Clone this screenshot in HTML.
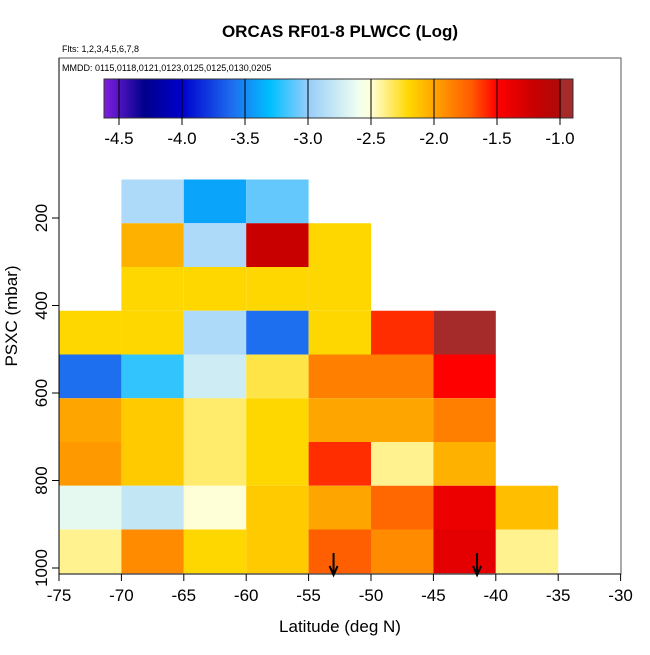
<!DOCTYPE html>
<html><head><meta charset="utf-8"><style>
body{margin:0;background:#fff;font-family:"Liberation Sans",sans-serif}
</style></head><body>
<svg width="650" height="650" style="font-family:'Liberation Sans',sans-serif">
<text x="340" y="37" font-size="17" font-weight="bold" text-anchor="middle">ORCAS RF01-8 PLWCC (Log)</text>
<text x="62" y="52" font-size="9">Flts: 1,2,3,4,5,6,7,8</text>
<g id="cells"></g>
<g id="cbar"></g>
<rect x="59" y="58" width="562" height="516" fill="none" stroke="#555" stroke-width="1"/>
<text x="62" y="71" font-size="9">MMDD: 0115,0118,0121,0123,0125,0125,0130,0205</text>
<g id="axes"></g>
<text x="340" y="632" font-size="17" text-anchor="middle">Latitude (deg N)</text>
<text x="0" y="0" font-size="17" text-anchor="middle" transform="translate(17,316) rotate(-90)">PSXC (mbar)</text>
</svg>
<script>
const latEdges=[-75,-70,-65,-60,-55,-50,-45,-40,-35];
const presEdges=[112,212,312,412,512,612,712,812,912];
const xTicks=[-75,-70,-65,-60,-55,-50,-45,-40,-35,-30];
const yTicks=[200,400,600,800,1000];
const cbTicks=[-4.5,-4.0,-3.5,-3.0,-2.5,-2.0,-1.5,-1.0];
// rows: pressure bins top->bottom; columns: lat bins; null = empty
const cellValues=[
[null,-2.9,-3.4,-3.1,null,null,null,null,null],
[null,-2.05,-2.9,-1.2,-2.2,null,null,null,null],
[null,-2.2,-2.2,-2.2,-2.2,null,null,null,null],
[-2.2,-2.2,-2.9,-3.6,-2.2,-1.6,-0.97,null,null],
[-3.6,-3.2,-2.75,-2.3,-1.85,-1.85,-1.5,null,null],
[-2.0,-2.15,-2.35,-2.2,-2.0,-2.0,-1.85,null,null],
[-1.95,-2.15,-2.35,-2.2,-1.6,-2.4,-2.05,null,null],
[-2.65,-2.8,-2.5,-2.15,-2.0,-1.75,-1.4,-2.1,null],
[-2.4,-1.9,-2.2,-2.15,-1.72,-1.9,-1.35,-2.4,null]];
const arrowLats=[-53,-41.5];
const NS='http://www.w3.org/2000/svg';
const xs=v=>59+(v+75)*12.48;
const ys=p=>218+(p-200)*0.4375;
const cs=v=>119+(v+4.5)*126;
const stops=[[-4.62,[128,32,224]],[-4.3,[0,0,139]],[-4.0,[0,0,205]],[-3.6,[30,110,240]],[-3.3,[0,191,255]],[-3.0,[150,205,250]],[-2.6,[240,255,240]],[-2.5,[255,255,215]],[-2.2,[255,215,0]],[-2.0,[255,165,0]],[-1.7,[255,90,0]],[-1.5,[255,0,0]],[-1.2,[200,0,0]],[-1.0,[175,10,10]],[-0.99,[165,42,42]],[-0.9,[165,42,42]]];
function col(v){for(let i=0;i<stops.length-1;i++){const a=stops[i],b=stops[i+1];if(v<=b[0]){const t=Math.max(0,(v-a[0])/(b[0]-a[0]));return 'rgb('+a[1].map((c,k)=>Math.round(c+(b[1][k]-c)*t)).join(',')+')';}}return 'rgb(165,42,42)';}
function mk(tag,at,p){const e=document.createElementNS(NS,tag);for(const k in at)e.setAttribute(k,at[k]);p.appendChild(e);return e;}
const cells=document.getElementById('cells');
cellValues.forEach((row,r)=>row.forEach((v,c)=>{if(v===null)return;
const e=mk('rect',{x:xs(latEdges[c]),y:ys(presEdges[r]),width:xs(latEdges[c]+5)-xs(latEdges[c]),height:ys(presEdges[r]+100)-ys(presEdges[r]),fill:col(v)},cells);

}));
arrowLats.forEach(a=>{const x=xs(a);
const l=mk('path',{d:`M${x},553 L${x},575 M${x-4},566 L${x},575 L${x+4},566`,stroke:'#000','stroke-width':2,fill:'none'},cells);

});
const cb=document.getElementById('cbar');
for(let px=104;px<573;px++){const v=(px+0.5-119)/126-4.5;mk('rect',{x:px,y:79,width:1.2,height:39,fill:col(v)},cb);}
mk('rect',{x:104,y:79,width:469,height:39,fill:'none',stroke:'#333'},cb);
cbTicks.forEach(t=>{mk('line',{x1:cs(t),x2:cs(t),y1:79,y2:125,stroke:'#000','stroke-width':1},cb);
const tx=mk('text',{x:cs(t),y:144,'font-size':17,'text-anchor':'middle'},cb);tx.textContent=t.toFixed(1);

});
const ax=document.getElementById('axes');
mk('line',{x1:59,x2:621,y1:574,y2:574,stroke:'#000'},ax);
mk('line',{x1:59,x2:59,y1:58,y2:574,stroke:'#000'},ax);
xTicks.forEach(t=>{mk('line',{x1:xs(t),x2:xs(t),y1:574,y2:581,stroke:'#000'},ax);
const tx=mk('text',{x:xs(t),y:601,'font-size':17,'text-anchor':'middle'},ax);tx.textContent=t;

});
yTicks.forEach(t=>{mk('line',{x1:52,x2:59,y1:ys(t),y2:ys(t),stroke:'#000'},ax);
const tx=mk('text',{x:0,y:0,'font-size':17,'text-anchor':'middle',transform:`translate(47,${ys(t)}) rotate(-90)`},ax);tx.textContent=t;

});
</script>
</body></html>
